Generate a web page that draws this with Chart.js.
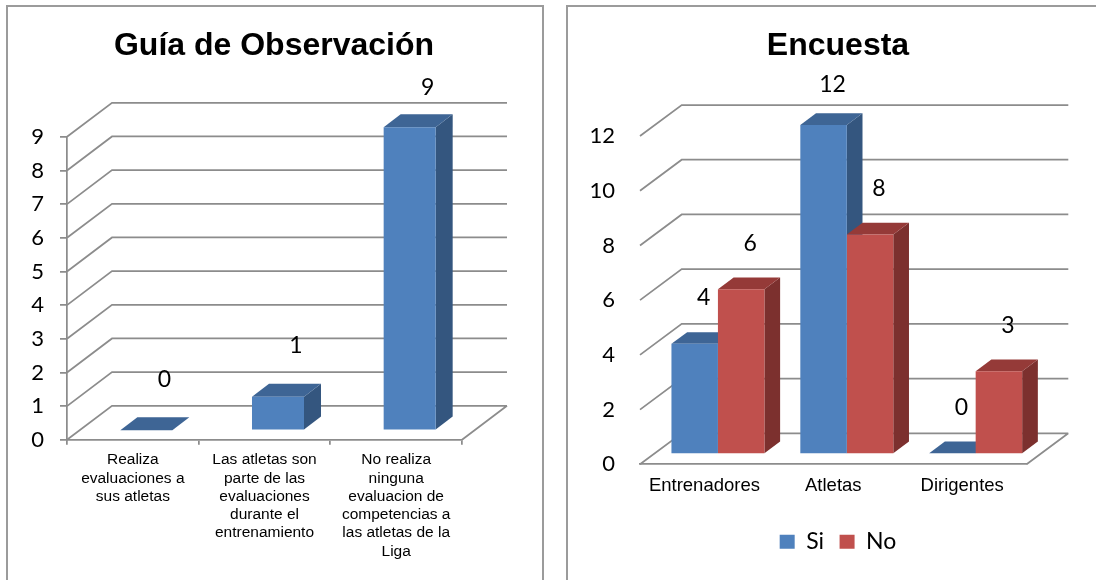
<!DOCTYPE html>
<html lang="es">
<head>
  <meta charset="UTF-8">
  <title>Guía de Observación – Encuesta</title>
  <script src="https://cdn.jsdelivr.net/npm/chart.js@4"></script>
  <style>
    html, body { margin: 0; padding: 0; background: #fff; overflow: hidden; }
    body { width: 1096px; height: 580px; position: relative; }
    .box { position: absolute; border: 2px solid #9b9b9b; }
    #box-guia { left: 6px; top: 5px; width: 534px; height: 620px; }
    #box-encuesta { left: 566px; top: 5px; width: 560px; height: 620px; }
    canvas { position: absolute; top: 0; }
    #chart-guia { left: 0; }
    #chart-encuesta { left: 548px; }
  </style>
</head>
<body>
  <div class="box" id="box-guia"></div>
  <div class="box" id="box-encuesta"></div>
  <canvas id="chart-guia" width="548" height="580"></canvas>
  <canvas id="chart-encuesta" width="548" height="580"></canvas>

<script>
// données
const guiaLabels = [
  ['Realiza', 'evaluaciones a', 'sus atletas'],
  ['Las atletas son', 'parte de las', 'evaluaciones', 'durante el', 'entrenamiento'],
  ['No realiza', 'ninguna', 'evaluacion de', 'competencias a', 'las atletas de la', 'Liga']
];
const guiaValues = [0, 1, 9];

const encuestaLabels = ['Entrenadores', 'Atletas', 'Dirigentes'];
const siValues = [4, 12, 0];
const noValues = [6, 8, 3];

const GRID = '#8c8c8c';
const ARIAL = "'Liberation Sans', Arial, sans-serif";
const CALIBRI = "Lato, 'Open Sans', sans-serif";

const BLUE = { front: '#4f81bd', top: '#3e6595', side: '#34567f' };
const RED = { front: '#c0504d', top: '#953a38', side: '#7c302e' };

function poly(ctx, pts) {
  ctx.beginPath();
  ctx.moveTo(pts[0][0], pts[0][1]);
  pts.slice(1).forEach(p => ctx.lineTo(p[0], p[1]));
  ctx.closePath();
  ctx.fill();
}

// effet 3D : mur du fond, faces des barres, étiquettes
function relief(cfg) {
  return {
    id: 'relief',
    beforeDatasetsDraw(chart) {
      const { ctx, chartArea: a, scales: { y } } = chart;
      ctx.save();
      ctx.strokeStyle = GRID;
      ctx.lineWidth = 1.75;
      ctx.beginPath();
      y.ticks.forEach(t => {
        const py = y.getPixelForValue(t.value);
        ctx.moveTo(a.left, py);
        ctx.lineTo(a.left + cfg.back.x, py + cfg.back.y);
        ctx.lineTo(a.right + cfg.back.x, py + cfg.back.y);
      });
      ctx.moveTo(a.right, a.bottom);
      ctx.lineTo(a.right + cfg.back.x, a.bottom + cfg.back.y);
      ctx.stroke();

      const dx = cfg.depth.x, dy = cfg.depth.y;
      for (let i = 0; i < chart.data.labels.length; i++) {
        chart.data.datasets.forEach((ds, d) => {
          const bar = chart.getDatasetMeta(d).data[i];
          const l = bar.x - bar.width / 2 + cfg.shift.x;
          const r = bar.x + bar.width / 2 + cfg.shift.x;
          const t = bar.y + cfg.shift.y;
          const b = bar.base + cfg.shift.y;
          ctx.fillStyle = ds.faces.side;
          poly(ctx, [[r, t], [r + dx, t + dy], [r + dx, b + dy], [r, b]]);
          ctx.fillStyle = ds.faces.top;
          poly(ctx, [[l, t], [l + dx, t + dy], [r + dx, t + dy], [r, t]]);
        });
      }
      ctx.restore();
      // les faces avant sont dessinées par Chart.js, décalées en profondeur
      ctx.save();
      ctx.translate(cfg.shift.x, cfg.shift.y);
    },
    afterDatasetsDraw(chart) {
      const { ctx, chartArea: a } = chart;
      ctx.restore();
      ctx.save();
      ctx.font = '23px ' + CALIBRI;
      ctx.fillStyle = '#000';
      ctx.textAlign = 'center';
      ctx.textBaseline = 'middle';
      chart.data.datasets.forEach((ds, d) => {
        chart.getDatasetMeta(d).data.forEach((bar, i) => {
          const x = bar.x + cfg.label.x;
          const y = Math.max(bar.y + cfg.label.y, a.top + cfg.label.top);
          ctx.fillText(String(ds.data[i]), x, y);
        });
      });
      ctx.restore();
    }
  };
}

const yTickFont = { family: CALIBRI, size: 22 };
const titleFont = { family: ARIAL, size: 32, weight: 'bold', lineHeight: 1.2 };

new Chart(document.getElementById('chart-guia'), {
  type: 'bar',
  data: {
    labels: guiaLabels,
    datasets: [{
      data: guiaValues,
      backgroundColor: BLUE.front,
      faces: BLUE,
      borderWidth: 0,
      categoryPercentage: 1,
      barPercentage: 0.395,
      clip: false
    }]
  },
  options: {
    responsive: false,
    animation: false,
    layout: { padding: 0 },
    plugins: {
      legend: { display: false },
      tooltip: { enabled: false },
      title: {
        display: true,
        text: 'Guía de Observación',
        color: '#000',
        font: titleFont,
        padding: { top: 26.8, bottom: 71.6 }
      }
    },
    scales: {
      x: {
        grid: { drawOnChartArea: false, drawTicks: true, tickLength: 5, color: GRID, lineWidth: 1.75, offset: true },
        border: { display: true, color: GRID, width: 1.75 },
        ticks: {
          color: '#000',
          padding: 6,
          autoSkip: false,
          maxRotation: 0,
          font: { family: ARIAL, size: 15.5, lineHeight: '18.3px' }
        },
        afterFit: s => { s.height = 140.2; }
      },
      y: {
        min: 0,
        max: 9,
        ticks: { stepSize: 1, padding: 16, color: '#000', font: yTickFont },
        grid: { drawOnChartArea: false, drawTicks: true, tickLength: 7, color: GRID, lineWidth: 1.75 },
        border: { display: true, color: GRID, width: 1.75 },
        afterFit: s => { s.width = 67; }
      },
      yRight: {
        axis: 'y',
        position: 'right',
        grid: { display: false },
        border: { display: false },
        ticks: { display: false },
        afterFit: s => { s.width = 86; }
      }
    }
  },
  plugins: [relief({
    back: { x: 45, y: -34 },
    shift: { x: 13.5, y: -9.5 },
    depth: { x: 17, y: -13 },
    label: { x: 31.5, y: -60.5, top: -48.8 }
  })]
});

new Chart(document.getElementById('chart-encuesta'), {
  type: 'bar',
  data: {
    labels: encuestaLabels,
    datasets: [{
      label: 'Si',
      data: siValues,
      backgroundColor: BLUE.front,
      faces: BLUE,
      borderWidth: 0,
      categoryPercentage: 0.7214,
      barPercentage: 1,
      clip: false
    }, {
      label: 'No',
      data: noValues,
      backgroundColor: RED.front,
      faces: RED,
      borderWidth: 0,
      categoryPercentage: 0.7214,
      barPercentage: 1,
      clip: false
    }]
  },
  options: {
    responsive: false,
    animation: false,
    layout: { padding: { left: 32, bottom: 16.8 } },
    plugins: {
      tooltip: { enabled: false },
      legend: {
        position: 'bottom',
        labels: { boxWidth: 15, boxHeight: 14, padding: 15.5, color: '#000', font: { family: CALIBRI, size: 23 } }
      },
      title: {
        display: true,
        text: 'Encuesta',
        color: '#000',
        font: titleFont,
        padding: { top: 26.8, bottom: 70.8 }
      }
    },
    scales: {
      x: {
        grid: { display: false, drawTicks: false },
        border: { display: true, color: GRID, width: 1.75 },
        ticks: {
          color: '#000',
          padding: 11,
          autoSkip: false,
          maxRotation: 0,
          font: { family: ARIAL, size: 18.5 }
        },
        afterFit: s => { s.height = 50.4; }
      },
      y: {
        min: 0,
        max: 12,
        ticks: { stepSize: 2, padding: 25, color: '#000', font: yTickFont },
        grid: { display: false, drawTicks: false },
        border: { display: false },
        afterFit: s => { s.width = 60; }
      },
      yRight: {
        axis: 'y',
        position: 'right',
        grid: { display: false },
        border: { display: false },
        ticks: { display: false },
        afterFit: s => { s.width = 69.4; }
      }
    }
  },
  plugins: [relief({
    back: { x: 41.7, y: -31 },
    shift: { x: 13.5, y: -11 },
    depth: { x: 15.7, y: -11.7 },
    label: { x: 22.5, y: -57, top: -51 }
  })]
});
</script>
</body>
</html>
